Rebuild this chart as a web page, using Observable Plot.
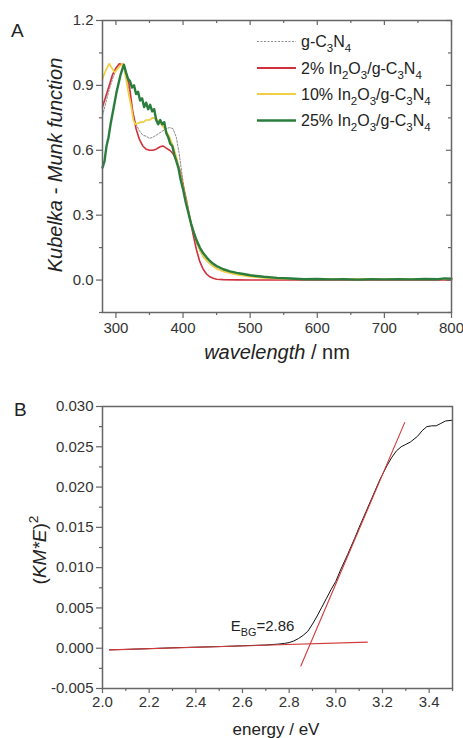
<!DOCTYPE html>
<html><head><meta charset="utf-8">
<script src="https://cdn.jsdelivr.net/npm/d3@7"></script>
<script src="https://cdn.jsdelivr.net/npm/@observablehq/plot@0.6"></script>
<style>
body{margin:0;background:#fff;}
#wrap{position:relative;width:463px;height:738px;overflow:hidden;}
svg{display:block;}
</style></head><body><div id="wrap"></div>
<script>
// ---------- Panel A data (Kubelka-Munk function vs wavelength) ----------
const wlGC = [280,285,290,295,300,305,310,315,320,325,330,335,340,345,350,355,360,365,370,375,380,385,390,394,398,402,406,410,415,420,425,430,440,450,460,480,500,550,600,700,800];
const kmGC = [0.76,0.82,0.88,0.93,0.97,0.99,1.0,0.96,0.87,0.78,0.72,0.69,0.67,0.665,0.655,0.66,0.67,0.68,0.69,0.70,0.705,0.70,0.66,0.59,0.50,0.41,0.34,0.28,0.22,0.17,0.135,0.105,0.075,0.058,0.045,0.03,0.02,0.007,0.004,0.003,0.003];
const wl2 = [280,285,290,295,300,305,310,315,320,325,330,335,340,345,350,355,360,365,370,375,380,385,390,395,400,405,410,415,420,425,430,435,440,445,450,460,480,500,600,700,800];
const km2 = [0.80,0.85,0.90,0.95,0.98,1.0,0.995,0.96,0.90,0.78,0.70,0.65,0.62,0.605,0.60,0.60,0.605,0.615,0.62,0.61,0.60,0.585,0.555,0.51,0.44,0.37,0.29,0.21,0.14,0.085,0.05,0.028,0.015,0.008,0.004,0.002,0.001,0,0,0,0];
const wl10 = [280,285,290,294,298,302,306,311,315,319,323,326,329,333,337,341,345,350,355,360,365,370,375,380,385,390,395,400,405,410,415,420,425,430,435,440,445,450,460,470,480,500,520,550,600,700,800];
const km10 = [0.93,0.97,1.0,0.98,0.96,0.975,0.99,1.0,0.93,0.86,0.80,0.74,0.72,0.725,0.73,0.73,0.74,0.74,0.75,0.745,0.73,0.71,0.69,0.66,0.62,0.57,0.50,0.43,0.36,0.29,0.23,0.18,0.14,0.11,0.09,0.075,0.062,0.052,0.04,0.032,0.025,0.016,0.01,0.006,0.004,0.004,0.004];
const wl25 = [280,283,286,289,292,295,298,301,304,307,310,312,315,318,321,324,327,330,333,336,339,342,345,348,351,354,357,360,363,366,369,372,375,378,381,384,387,390,393,396,400,404,408,412,416,420,425,430,435,440,445,450,460,470,480,490,500,520,540,560,580,600,620,640,660,680,700,720,740,760,780,790,800];
const km25 = [0.52,0.55,0.62,0.66,0.72,0.77,0.82,0.87,0.91,0.95,0.98,0.995,0.96,0.93,0.92,0.89,0.90,0.86,0.87,0.83,0.84,0.80,0.82,0.79,0.81,0.78,0.79,0.74,0.72,0.74,0.72,0.73,0.68,0.66,0.63,0.62,0.58,0.55,0.52,0.47,0.42,0.36,0.31,0.26,0.22,0.185,0.15,0.125,0.105,0.088,0.075,0.065,0.05,0.04,0.033,0.028,0.022,0.015,0.01,0.007,0.004,0.005,0.003,0.004,0.002,0.004,0.003,0.004,0.003,0.005,0.004,0.008,0.006];

const xTicksA = [300,400,500,600,700,800];
const xMinorA = [350,450,550,650,750];
const yTicksA = [0.0,0.3,0.6,0.9,1.2];
const yMinorA = [-0.15,0.15,0.45,0.75,1.05];

// legend of panel A
const seriesColors = ["#8a8a8a","#d0313a","#f0cf45","#2b7d3e"];
const legendLabels = [
  [["g-C",""],["3","sub"],["N",""],["4","sub"]],
  [["2% In",""],["2","sub"],["O",""],["3","sub"],["/g-C",""],["3","sub"],["N",""],["4","sub"]],
  [["10% In",""],["2","sub"],["O",""],["3","sub"],["/g-C",""],["3","sub"],["N",""],["4","sub"]],
  [["25% In",""],["2","sub"],["O",""],["3","sub"],["/g-C",""],["3","sub"],["N",""],["4","sub"]]
];

// ---------- Panel B data ((KM*E)^2 vs energy) ----------
const energyB = [2.03,2.1,2.2,2.3,2.4,2.5,2.6,2.7,2.75,2.78,2.8,2.82,2.84,2.86,2.88,2.9,2.92,2.94,2.96,2.98,3.0,3.02,3.05,3.08,3.1,3.13,3.16,3.19,3.22,3.24,3.26,3.28,3.3,3.32,3.35,3.37,3.39,3.41,3.43,3.45,3.47,3.5];
const kmE2 = [-0.0002,-0.00015,-0.00005,0.00005,0.00013,0.0002,0.0003,0.0004,0.0005,0.0006,0.0007,0.0009,0.0012,0.0016,0.0021,0.0030,0.0040,0.0051,0.0062,0.0073,0.0083,0.0097,0.0116,0.0136,0.0150,0.0170,0.0190,0.0210,0.0227,0.0237,0.0245,0.0250,0.0253,0.0256,0.0263,0.0270,0.0275,0.0276,0.0276,0.0279,0.0282,0.0283];
const baseFitE = [2.03, 3.135];
const baseFitY = [-0.0002, 0.00075];
const steepFitE = [2.85, 3.295];
const steepFitY = [-0.0022, 0.0280];
const bandGapLabel = "EBG=2.86";
const bandGapPos = {x: 2.55, y: 0.0027};

const xTicksB = [2.0,2.2,2.4,2.6,2.8,3.0,3.2,3.4];
const xMinorB = [2.1,2.3,2.5,2.7,2.9,3.1,3.3,3.5];
const yTicksB = [-0.005,0.000,0.005,0.010,0.015,0.020,0.025,0.030];
const yMinorB = [-0.0025,0.0025,0.0075,0.0125,0.0175,0.0225,0.0275];

// ---------- helpers ----------
const FONT = "'Liberation Sans', Arial, Helvetica, sans-serif";
const AX = "#666";
const zip = (xs, ys) => xs.map((x,i)=>({x, y: ys[i]}));

function richText(parent, parts, attrs, fs) {
  const t = parent.append("text").attr("font-family", FONT).attr("font-size", fs).attr("fill", "#222")
    .attr("text-anchor", "start");
  for (const [k,v] of Object.entries(attrs)) t.attr(k, v);
  let off = 0;
  for (const [s, kind] of parts) {
    const ts = t.append("tspan").text(s);
    let target = 0;
    if (kind.includes("sub")) { target = 0.3*fs; ts.attr("font-size", fs*0.72); }
    if (kind.includes("sup")) { target = -0.42*fs; ts.attr("font-size", fs*0.72); }
    if (kind.startsWith("i")) ts.attr("font-style", "italic");
    if (target !== off) { ts.attr("dy", target - off); off = target; }
  }
  return t;
}

const wrap = document.getElementById("wrap");

// ---------- Panel A ----------
const WA = 463, HA = 365, mtA = 20, mbA = 53, mlA = 102, mrA = 12;
const innerHA = HA - mtA - mbA, innerWA = WA - mlA - mrA;
const plotA = Plot.plot({
  width: WA, height: HA, marginTop: mtA, marginBottom: mbA, marginLeft: mlA, marginRight: mrA,
  x: {domain: [280, 800]},
  y: {domain: [-0.15, 1.2]},
  style: {fontFamily: FONT, fontSize: "15px", color: "#333", background: "white"},
  marks: [
    Plot.line(zip(wlGC, kmGC), {x: "x", y: "y", stroke: seriesColors[0], strokeWidth: 1, strokeDasharray: "2,1.5"}),
    Plot.line(zip(wl2, km2), {x: "x", y: "y", stroke: seriesColors[1], strokeWidth: 1.6}),
    Plot.line(zip(wl10, km10), {x: "x", y: "y", stroke: seriesColors[2], strokeWidth: 1.7}),
    Plot.line(zip(wl25, km25), {x: "x", y: "y", stroke: seriesColors[3], strokeWidth: 2.4}),
    Plot.frame({stroke: AX, strokeWidth: 1.5}),
    Plot.axisY(yTicksA, {tickSize: 6, tickPadding: 3, tickFormat: d => d.toFixed(1), label: null, stroke: AX, strokeWidth: 1.2, fontSize: 15}),
    Plot.axisY(yMinorA, {tickSize: 3, tickFormat: () => "", label: null, stroke: AX, strokeWidth: 1.2}),
    Plot.axisX(xTicksA, {tickSize: 6, tickPadding: 4, tickFormat: d => String(d), label: null, stroke: AX, strokeWidth: 1.2, fontSize: 15}),
    Plot.axisX(xMinorA, {tickSize: 3, tickFormat: () => "", label: null, stroke: AX, strokeWidth: 1.2}),
    Plot.tickX(xTicksA, {x: d => d, insetBottom: innerHA - 5, stroke: AX, strokeWidth: 1.2}),
    Plot.tickX(xMinorA, {x: d => d, insetBottom: innerHA - 3, stroke: AX, strokeWidth: 1.2}),
    Plot.tickY(yTicksA, {y: d => d, insetLeft: innerWA - 5, stroke: AX, strokeWidth: 1.2}),
    Plot.tickY(yMinorA, {y: d => d, insetLeft: innerWA - 3, stroke: AX, strokeWidth: 1.2})
  ]
});
wrap.appendChild(plotA);
const sA = d3.select(plotA);

// legend
const legY = [41.5, 68, 94, 120.5];
const legW = [1, 1.8, 1.8, 2.6];
legendLabels.forEach((parts, i) => {
  const line = sA.append("line").attr("x1", 257).attr("x2", 296).attr("y1", legY[i]).attr("y2", legY[i])
    .attr("stroke", seriesColors[i]).attr("stroke-width", legW[i]);
  if (i === 0) line.attr("stroke-dasharray", "2,1.5");
  richText(sA, parts, {x: 301, y: legY[i] + 5.8}, 16);
});

// labels
richText(sA, [["wavelength","i"],[" / nm",""]], {x: 277, y: 359, "text-anchor": "middle"}, 20);
richText(sA, [["Kubelka - Munk function","i"]], {transform: "translate(62,165) rotate(-90)", "text-anchor": "middle"}, 20);
richText(sA, [["A",""]], {x: 11, y: 37}, 19);

// ---------- Panel B ----------
const WB = 463, HB = 373, mtB = 41, mbB = 50, mlB = 102, mrB = 11;
const plotB = Plot.plot({
  width: WB, height: HB, marginTop: mtB, marginBottom: mbB, marginLeft: mlB, marginRight: mrB,
  x: {domain: [2.0, 3.5]},
  y: {domain: [-0.005, 0.030]},
  style: {fontFamily: FONT, fontSize: "15px", color: "#333", background: "white"},
  marks: [
    Plot.line(zip(energyB, kmE2), {x: "x", y: "y", stroke: "#111", strokeWidth: 1}),
    Plot.line(zip(baseFitE, baseFitY), {x: "x", y: "y", stroke: "#d23a3a", strokeWidth: 1.1}),
    Plot.line(zip(steepFitE, steepFitY), {x: "x", y: "y", stroke: "#d23a3a", strokeWidth: 1.1}),
    Plot.text([bandGapPos], {x: "x", y: "y", text: () => bandGapLabel, textAnchor: "start", fontSize: 15, fill: "#222"}),
    Plot.frame({stroke: AX, strokeWidth: 1.5}),
    Plot.axisY(yTicksB, {tickSize: 6, tickPadding: 3, tickFormat: d => d.toFixed(3), label: null, stroke: AX, strokeWidth: 1.2, fontSize: 15}),
    Plot.axisY(yMinorB, {tickSize: 3, tickFormat: () => "", label: null, stroke: AX, strokeWidth: 1.2}),
    Plot.axisX(xTicksB, {tickSize: 5, tickPadding: 3, tickFormat: d => d.toFixed(1), label: null, stroke: AX, strokeWidth: 1.2, fontSize: 15}),
    Plot.axisX(xMinorB, {tickSize: 3, tickFormat: () => "", label: null, stroke: AX, strokeWidth: 1.2})
  ]
});
wrap.appendChild(plotB);
const sB = d3.select(plotB);

// rich E_BG label (subscript)
sB.selectAll("text").filter(function(){ return this.textContent === bandGapLabel; }).each(function(){
  const t = d3.select(this); t.text(null);
  t.append("tspan").text("E");
  t.append("tspan").text("BG").attr("font-size", 15*0.72).attr("dy", 4.5);
  t.append("tspan").text("=2.86").attr("dy", -4.5);
});

richText(sB, [["energy / eV",""]], {x: 276, y: 370, "text-anchor": "middle"}, 17);
richText(sB, [["(",""],["KM*E","i"],[")",""],["2","sup"]], {transform: "translate(46,185) rotate(-90)", "text-anchor": "middle"}, 19);
richText(sB, [["B",""]], {x: 14, y: 51}, 19);
</script>
</body></html>
